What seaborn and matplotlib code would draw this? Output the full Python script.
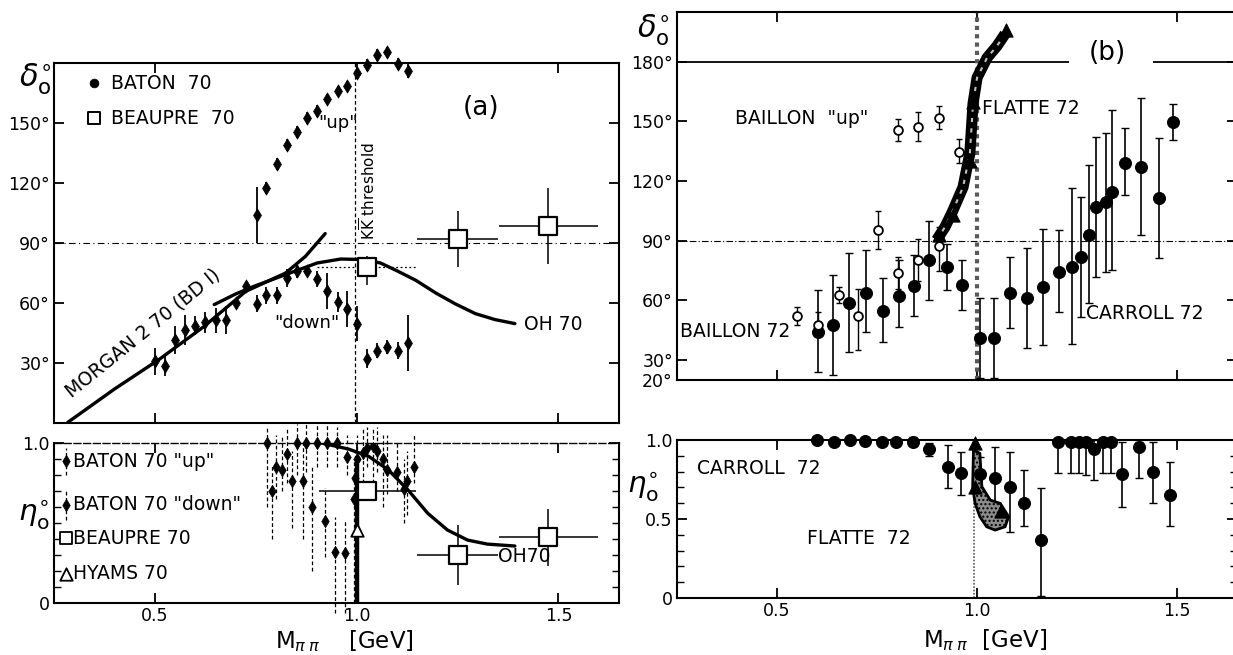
import numpy as np
import pandas as pd
import matplotlib
matplotlib.use("Agg")
import matplotlib.pyplot as plt
from matplotlib.ticker import MultipleLocator
import seaborn as sns

# ================= DATA : panel (a) phase shift delta_0 =================
a_up_m = [0.753, 0.775, 0.802, 0.827, 0.853, 0.877, 0.902, 0.927, 0.953, 0.977,
          1.000, 1.026, 1.051, 1.075, 1.102, 1.127]
a_up_d = [103.8, 117.3, 129.5, 139.2, 145.3, 152.3, 156.2, 162.2, 166.2, 168.7,
          175.0, 179.2, 184.2, 185.3, 179.5, 175.8]
a_up_err = [14, 3, 3, 3, 3, 3, 3, 2.5, 2.5, 2.5, 3, 3, 3, 2.5, 3, 3.5]

a_low_m = [0.500, 0.525, 0.550, 0.574, 0.600, 0.625, 0.651, 0.676, 0.701, 0.727,
           0.752, 0.776, 0.802, 0.827, 0.853, 0.877, 0.902, 0.927, 0.953, 0.977,
           1.000, 1.026, 1.051, 1.075, 1.102, 1.127]
a_low_d = [30.8, 28.3, 41.3, 46.7, 48.7, 50.3, 51.3, 51.3, 60.0, 68.7,
           59.7, 63.8, 63.8, 72.5, 75.8, 75.8, 72.0, 65.8, 60.3, 57.0,
           49.7, 32.2, 36.2, 38.0, 36.2, 40.0]
a_low_err = [6.7, 5.0, 7.0, 7.5, 4.6, 5.4, 6.3, 7.0, 2.5, 2.0,
             4.2, 4.2, 4.2, 4.6, 3.3, 2.0, 4.2, 9.0, 5.0, 9.0,
             8.7, 4.6, 3.8, 3.3, 4.2, 14.0]

a_beau_m = [1.026, 1.250, 1.473]
a_beau_d = [77.8, 92.0, 98.3]
a_beau_dlo = [8.7, 14.0, 19.0]
a_beau_dhi = [5.5, 14.0, 19.0]
a_beau_mlo = [0.124, 0.10, 0.12]
a_beau_mhi = [0.121, 0.10, 0.125]

oh_m = [0.647, 0.700, 0.745, 0.824, 0.902, 0.961, 1.020, 1.059, 1.098, 1.147,
        1.196, 1.245, 1.294, 1.343, 1.392]
oh_d = [59.2, 64.5, 68.3, 74.2, 80.0, 82.0, 81.7, 80.0, 76.3, 71.3,
        65.0, 59.5, 54.7, 51.7, 49.7]

morgan_m = [0.284, 0.400, 0.510, 0.620, 0.725, 0.824, 0.873, 0.922]
morgan_d = [0.3, 17.0, 31.7, 48.0, 65.8, 75.0, 83.3, 94.7]

# ================= DATA : panel (a) inelasticity eta_0 =================
a_etaup_m = [0.777, 0.801, 0.816, 0.827, 0.851, 0.875, 0.902, 0.927, 0.952, 0.976,
             1.002, 1.026, 1.051, 1.075, 1.100, 1.125, 1.142]
a_etaup = [1.00, 0.85, 0.83, 0.93, 1.00, 1.00, 1.00, 1.00, 1.00, 0.91,
           0.90, 0.97, 0.95, 0.83, 0.82, 0.76, 0.85]
a_etaup_lo = [0.60, 0.65, 0.70, 0.75, 0.80, 0.82, 0.85, 0.85, 0.85, 0.80,
              0.80, 0.85, 0.82, 0.68, 0.70, 0.55, 0.75]
a_etaup_hi = [1.10, 1.05, 1.05, 1.10, 1.12, 1.12, 1.12, 1.12, 1.10, 1.05,
              1.05, 1.10, 1.10, 1.05, 1.00, 0.95, 1.05]

a_etadn_m = [0.790, 0.841, 0.868, 0.890, 0.922, 0.946, 0.971, 0.993, 0.997,
             1.015, 1.041, 1.066, 1.118]
a_etadn = [0.70, 0.76, 0.76, 0.60, 0.51, 0.32, 0.31, 0.65, 0.78,
           0.94, 0.98, 0.90, 0.71]
a_etadn_lo = [0.40, 0.47, 0.40, 0.20, 0.29, -0.06, -0.06, 0.00, 0.00,
              0.75, 0.75, 0.60, 0.50]
a_etadn_hi = [0.87, 0.95, 1.00, 0.85, 0.72, 0.54, 0.52, 0.90, 0.95,
              1.10, 1.10, 1.05, 0.90]

a_beau_eta = [0.70, 0.30, 0.41]
a_beau_eta_err = [0.0, 0.19, 0.18]
a_beau_eta_mlo = [0.12, 0.10, 0.12]
a_beau_eta_mhi = [0.12, 0.10, 0.125]

hyams_m = [1.002]
hyams_eta = [0.456]
hyams_band_top = [0.87]

oh_eta_m = [0.912, 0.980, 1.030, 1.078, 1.127, 1.176, 1.225, 1.275, 1.324, 1.392]
oh_eta = [1.00, 0.962, 0.916, 0.833, 0.707, 0.561, 0.456, 0.393, 0.368, 0.356]

# ================= DATA : panel (b) phase shift =================
bail_m = [0.551, 0.602, 0.654, 0.703, 0.752, 0.802, 0.853, 0.904]
bail_d = [52.2, 47.6, 62.7, 52.2, 95.4, 73.6, 80.3, 87.4]
bail_lo = [47.5, 43.0, 58.5, 35.0, 86.0, 66.0, 70.0, 75.0]
bail_hi = [56.8, 54.0, 67.0, 66.0, 105.0, 82.0, 91.0, 97.0]

bailup_m = [0.802, 0.853, 0.904, 0.955]
bailup_d = [145.6, 147.3, 151.5, 134.8]
bailup_lo = [140.0, 140.0, 146.0, 129.0]
bailup_hi = [151.0, 155.0, 158.0, 141.0]

car_m = [0.603, 0.639, 0.680, 0.722, 0.764, 0.804, 0.843, 0.881, 0.924, 0.963,
         1.007, 1.043, 1.083, 1.124, 1.164, 1.206, 1.237, 1.259, 1.279, 1.298,
         1.323, 1.337, 1.370, 1.409, 1.455, 1.490]
car_d = [44.3, 47.6, 58.5, 63.9, 54.8, 62.2, 67.2, 80.3, 77.0, 67.7,
         41.3, 41.3, 63.6, 61.0, 66.6, 74.5, 77.0, 81.7, 92.9, 107.1,
         109.6, 114.7, 129.2, 127.2, 111.3, 149.5]
car_lo = [24.2, 22.5, 34.2, 44.3, 39.3, 46.5, 52.2, 60.2, 65.2, 55.2,
          20.8, 20.8, 46.0, 36.0, 37.6, 54.3, 38.1, 51.8, 58.5, 72.0,
          74.5, 75.3, 113.0, 92.9, 81.2, 140.6]
car_hi = [65.2, 72.8, 84.0, 85.3, 71.1, 80.3, 82.8, 100.0, 88.4, 80.3,
          61.0, 61.0, 82.0, 86.2, 95.7, 95.4, 116.3, 112.1, 128.0, 142.3,
          144.0, 155.7, 146.5, 161.6, 141.5, 159.0]

flatte_m = [0.899, 0.920, 0.937, 0.965, 0.982, 0.990, 1.000, 1.025, 1.050, 1.070]
flatte_d = [90.4, 97.0, 104.0, 117.0, 134.0, 159.0, 172.0, 182.0, 188.0, 194.0]
flatte_tri_m = [0.905, 0.940, 0.983, 0.990, 1.072]
flatte_tri_d = [93.0, 103.0, 130.0, 160.0, 196.0]

# ================= DATA : panel (b) inelasticity =================
car_eta_m = [0.600, 0.642, 0.683, 0.720, 0.762, 0.798, 0.840, 0.879, 0.928, 0.960,
             1.007, 1.044, 1.082, 1.117, 1.161, 1.203, 1.234, 1.254, 1.272, 1.293,
             1.316, 1.335, 1.363, 1.404, 1.441, 1.482]
car_eta = [1.00, 0.99, 1.00, 0.996, 0.985, 0.985, 0.99, 0.941, 0.832, 0.794,
           0.783, 0.762, 0.705, 0.600, 0.368, 0.985, 0.985, 0.985, 0.985, 0.941,
           0.985, 0.985, 0.785, 0.958, 0.796, 0.653]
car_eta_lo = [1.00, 0.99, 1.00, 0.996, 0.985, 0.985, 0.96, 0.90, 0.695, 0.653,
              0.621, 0.579, 0.421, 0.453, 0.01, 0.79, 0.79, 0.79, 0.78, 0.747,
              0.79, 0.79, 0.579, 0.758, 0.60, 0.453]
car_eta_hi = [1.00, 0.99, 1.00, 0.996, 0.985, 0.985, 1.02, 0.98, 0.968, 0.926,
              0.895, 0.958, 0.926, 0.810, 0.695, 1.00, 1.00, 1.00, 1.00, 1.00,
              1.00, 1.00, 0.99, 0.99, 0.99, 0.863]

flatte_eta_tri_m = [0.995, 0.995, 1.060]
flatte_eta_tri = [0.981, 0.700, 0.550]
flatte_band_m = [0.991, 1.007, 1.012, 1.033, 1.058, 1.079, 1.070, 1.045, 1.024,
                 1.007, 0.995, 0.989]
flatte_band_eta = [0.937, 0.916, 0.705, 0.620, 0.599, 0.515, 0.451, 0.430, 0.451,
                   0.515, 0.599, 0.705]

# ================= STYLE =================
sns.set_theme(style="ticks")
plt.rcParams["font.family"] = ["DejaVu Sans"]
plt.rcParams["mathtext.fontset"] = "dejavusans"
for k in ("text.color", "axes.labelcolor", "xtick.color", "ytick.color",
          "axes.edgecolor"):
    plt.rcParams[k] = "black"

INK = "black"
fig = plt.figure(figsize=(12.33, 6.55), dpi=100)
fig.patch.set_facecolor("white")

ax_at = fig.add_axes([0.0438, 0.3542, 0.4582, 0.5496])
ax_ab = fig.add_axes([0.0438, 0.0794, 0.4582, 0.2443])
ax_bt = fig.add_axes([0.5491, 0.4198, 0.4542, 0.5618])
ax_bb = fig.add_axes([0.5491, 0.0870, 0.4542, 0.2412])


def style(ax):
    ax.set_facecolor("white")
    ax.grid(False)
    for s in ax.spines.values():
        s.set_linewidth(1.5)
        s.set_color(INK)
    ax.tick_params(which="major", direction="in", length=7, width=1.3,
                   colors=INK, labelcolor=INK, top=True, right=True,
                   labelsize=12.5, pad=3)
    ax.tick_params(which="minor", direction="in", length=5, width=1.0,
                   colors=INK, left=True, right=True, top=False, bottom=False)
    ax.set_xlim(0.25, 1.65)
    ax.set_xticks([0.5, 1.0, 1.5])


for a in (ax_at, ax_ab, ax_bt, ax_bb):
    style(a)

FS = 13.5

# ---------------- panel (a) top ----------------
ax = ax_at
ax.set_ylim(0, 180)
ax.set_yticks([30, 60, 90, 120, 150])
ax.set_yticklabels(["30°", "60°", "90°", "120°", "150°"])
ax.set_xticklabels([])
ax.axhline(90, color=INK, lw=0.8, ls=(0, (6, 3, 1, 3)))
ax.axvline(0.995, color=INK, lw=0.9, ls=(0, (3, 2)))

sns.lineplot(x=morgan_m, y=morgan_d, ax=ax, color=INK, lw=2.4, sort=False,
             estimator=None, clip_on=False)
sns.lineplot(x=oh_m, y=oh_d, ax=ax, color=INK, lw=2.4, sort=False, estimator=None)

ax.errorbar(a_up_m, a_up_d, yerr=a_up_err, fmt="none", ecolor=INK, elinewidth=1.3,
            clip_on=False)
ax.errorbar(a_low_m, a_low_d, yerr=a_low_err, fmt="none", ecolor=INK, elinewidth=1.3)
sns.scatterplot(x=a_up_m, y=a_up_d, ax=ax, marker="d", s=45, color=INK,
                edgecolor=INK, clip_on=False, zorder=5)
sns.scatterplot(x=a_low_m, y=a_low_d, ax=ax, marker="d", s=45, color=INK,
                edgecolor=INK, zorder=5)

# BEAUPRE: vertical error bars, solid horizontal bars (dotted for the first point)
ax.errorbar(a_beau_m, a_beau_d, yerr=[a_beau_dlo, a_beau_dhi],
            fmt="none", ecolor=INK, elinewidth=1.1)
ax.hlines(a_beau_d[1:], np.subtract(a_beau_m, a_beau_mlo)[1:],
          np.add(a_beau_m, a_beau_mhi)[1:], colors=INK, lw=1.1)
ax.hlines(a_beau_d[:1], np.subtract(a_beau_m, a_beau_mlo)[:1],
          np.add(a_beau_m, a_beau_mhi)[:1], colors=INK, lw=0.9,
          linestyles=(0, (1.5, 2)))
sns.scatterplot(x=a_beau_m, y=a_beau_d, ax=ax, marker="s", s=160,
                facecolor="white", edgecolor=INK, linewidth=1.6, zorder=6)

# legend-like annotations
sns.scatterplot(x=[0.35], y=[170], ax=ax, marker="o", s=40, color=INK, edgecolor=INK)
sns.scatterplot(x=[0.35], y=[152.5], ax=ax, marker="s", s=70, facecolor="white",
                edgecolor=INK, linewidth=1.4)
ax.text(0.39, 170, "BATON  70", fontsize=FS, va="center", ha="left")
ax.text(0.39, 152.5, "BEAUPRE  70", fontsize=FS, va="center", ha="left")
ax.text(1.309, 157.5, "(a)", fontsize=19, va="center", ha="center")
ax.text(0.955, 150, '"up"', fontsize=FS - 0.5, va="center", ha="center")
ax.text(0.877, 50, '"down"', fontsize=FS - 0.5, va="center", ha="center")
ax.text(1.415, 49.2, "OH 70", fontsize=FS, va="center", ha="left")
ax.text(0.47, 45.0, "MORGAN 2 70 (BD I)", fontsize=FS, va="center", ha="center",
        rotation=39, rotation_mode="anchor")
ax.text(1.03, 116, r"K$\overline{\rm K}$ threshold", fontsize=11, rotation=90,
        va="center", ha="center")
ax.text(0.205, 172, r"$\delta^{\circ}_{\rm o}$", fontsize=22, va="center",
        ha="center", clip_on=False)

# ---------------- panel (a) bottom ----------------
ax = ax_ab
ax.set_ylim(0, 1.0)
ax.set_yticks([0, 1.0])
ax.set_yticklabels(["0", "1.0"])
ax.yaxis.set_minor_locator(MultipleLocator(0.1))
ax.set_xticklabels(["0.5", "1.0", "1.5"])
ax.spines["top"].set_linestyle((0, (5, 2)))
ax.spines["top"].set_linewidth(1.0)

ax.vlines(a_etaup_m, a_etaup_lo, a_etaup_hi, colors=INK, linestyles=(0, (3, 2)),
          lw=0.9, clip_on=False)
ax.vlines(a_etadn_m, a_etadn_lo, a_etadn_hi, colors=INK, linestyles=(0, (3, 2)),
          lw=0.9, clip_on=False)
ax.vlines(hyams_m, 0, hyams_band_top, colors=INK, lw=3.2)
sns.lineplot(x=oh_eta_m, y=oh_eta, ax=ax, color=INK, lw=2.4, sort=False,
             estimator=None)
sns.scatterplot(x=a_etaup_m, y=a_etaup, ax=ax, marker="d", s=40, color=INK,
                edgecolor=INK, zorder=5, clip_on=False)
sns.scatterplot(x=a_etadn_m, y=a_etadn, ax=ax, marker="d", s=40, color=INK,
                edgecolor=INK, zorder=5)
ax.errorbar(a_beau_m, a_beau_eta, yerr=a_beau_eta_err,
            xerr=[a_beau_eta_mlo, a_beau_eta_mhi], fmt="none", ecolor=INK,
            elinewidth=1.1)
sns.scatterplot(x=a_beau_m, y=a_beau_eta, ax=ax, marker="s", s=160,
                facecolor="white", edgecolor=INK, linewidth=1.6, zorder=6)
sns.scatterplot(x=hyams_m, y=hyams_eta, ax=ax, marker="^", s=80, facecolor="white",
                edgecolor=INK, linewidth=1.3, zorder=6)

# legend markers
ax.vlines([0.279, 0.279], [0.80, 0.52], [0.97, 0.70], colors=INK,
          linestyles=(0, (3, 2)), lw=0.9)
sns.scatterplot(x=[0.279, 0.279], y=[0.885, 0.613], ax=ax, marker="d", s=40,
                color=INK, edgecolor=INK)
sns.scatterplot(x=[0.279], y=[0.404], ax=ax, marker="s", s=70, facecolor="white",
                edgecolor=INK, linewidth=1.3)
sns.scatterplot(x=[0.279], y=[0.184], ax=ax, marker="^", s=80, facecolor="white",
                edgecolor=INK, linewidth=1.3)
ax.text(0.296, 0.885, 'BATON 70 "up"', fontsize=FS, va="center", ha="left")
ax.text(0.296, 0.613, 'BATON 70 "down"', fontsize=FS, va="center", ha="left")
ax.text(0.296, 0.404, "BEAUPRE 70", fontsize=FS, va="center", ha="left")
ax.text(0.296, 0.184, "HYAMS 70", fontsize=FS, va="center", ha="left")
ax.text(1.35, 0.29, "OH70", fontsize=FS, va="center", ha="left")
ax.text(0.2, 0.55, r"$\eta^{\circ}_{\rm o}$", fontsize=21, va="center",
        ha="center", clip_on=False)
ax.text(0.97, -0.235, r"M$_{\pi\;\pi}$    [GeV]", fontsize=16.5, va="center",
        ha="center", clip_on=False)

# ---------------- panel (b) top ----------------
ax = ax_bt
ax.set_ylim(20, 205)
ax.set_yticks([20, 30, 60, 90, 120, 150, 180])
ax.set_yticklabels(["20°", "30°", "60°", "90°", "120°", "150°", "180°"])
ax.set_xticklabels([])
ax.hlines(180, 0.25, 1.23, color=INK, lw=1.3)
ax.hlines(180, 1.44, 1.65, color=INK, lw=1.3)
ax.axhline(90, color=INK, lw=0.8, ls=(0, (6, 2, 1, 2)))
ax.axvline(1.0, color="0.35", lw=3.0, ls=(0, (1, 1)))

ax.errorbar(car_m, car_d,
            yerr=[np.subtract(car_d, car_lo), np.subtract(car_hi, car_d)],
            fmt="none", ecolor=INK, elinewidth=1.2, capsize=3, capthick=1.0)
sns.scatterplot(x=car_m, y=car_d, ax=ax, marker="o", s=75, color=INK,
                edgecolor=INK, zorder=5)
ax.errorbar(bail_m, bail_d,
            yerr=[np.subtract(bail_d, bail_lo), np.subtract(bail_hi, bail_d)],
            fmt="none", ecolor=INK, elinewidth=1.0, capsize=2.5, capthick=1.0)
ax.errorbar(bailup_m, bailup_d,
            yerr=[np.subtract(bailup_d, bailup_lo), np.subtract(bailup_hi, bailup_d)],
            fmt="none", ecolor=INK, elinewidth=1.0, capsize=2.5, capthick=1.0)
sns.scatterplot(x=bail_m, y=bail_d, ax=ax, marker="o", s=40, facecolor="white",
                edgecolor=INK, linewidth=1.3, zorder=6)
sns.scatterplot(x=bailup_m, y=bailup_d, ax=ax, marker="o", s=40, facecolor="white",
                edgecolor=INK, linewidth=1.3, zorder=6)

sns.lineplot(x=flatte_m, y=flatte_d, ax=ax, color=INK, lw=8, sort=False,
             estimator=None, zorder=4, solid_capstyle="butt")
sns.lineplot(x=flatte_m, y=flatte_d, ax=ax, color="0.75", lw=1.5, sort=False,
             estimator=None, zorder=4, ls=(0, (2, 3)))
sns.scatterplot(x=flatte_tri_m, y=flatte_tri_d, ax=ax, marker="^", s=90, color=INK,
                edgecolor=INK, zorder=5, clip_on=False)

ax.text(0.394, 151.5, 'BAILLON  "up"', fontsize=FS, va="center", ha="left")
ax.text(1.012, 156.5, "FLATTE 72", fontsize=FS, va="center", ha="left")
ax.text(0.257, 44.3, "BAILLON 72", fontsize=FS, va="center", ha="left")
ax.text(1.272, 53.5, "CARROLL 72", fontsize=FS, va="center", ha="left")
ax.text(1.325, 184.2, "(b)", fontsize=19, va="center", ha="center",
        bbox=dict(facecolor="white", edgecolor="none", pad=1))
ax.text(0.19, 196, r"$\delta^{\circ}_{\rm o}$", fontsize=22, va="center",
        ha="center", clip_on=False)

# ---------------- panel (b) bottom ----------------
ax = ax_bb
ax.set_ylim(0, 1.0)
ax.set_yticks([0, 0.5, 1.0])
ax.set_yticklabels(["0", "0.5", "1.0"])
ax.yaxis.set_minor_locator(MultipleLocator(0.1))
ax.set_xticklabels(["0.5", "1.0", "1.5"])
ax.axvline(0.993, color="0.35", lw=1.2, ls=(0, (1, 1)))

ax.errorbar(car_eta_m, car_eta,
            yerr=[np.subtract(car_eta, car_eta_lo), np.subtract(car_eta_hi, car_eta)],
            fmt="none", ecolor=INK, elinewidth=1.2, capsize=3, capthick=1.0,
            clip_on=False)
sns.scatterplot(x=car_eta_m, y=car_eta, ax=ax, marker="o", s=75, color=INK,
                edgecolor=INK, zorder=5, clip_on=False)
ax.fill(flatte_band_m, flatte_band_eta, facecolor="0.55", edgecolor=INK, lw=2,
        hatch="....", zorder=4)
sns.scatterplot(x=flatte_eta_tri_m, y=flatte_eta_tri, ax=ax, marker="^", s=90,
                color=INK, edgecolor=INK, zorder=5, clip_on=False)

ax.text(0.30, 0.821, "CARROLL  72", fontsize=FS, va="center", ha="left")
ax.text(0.575, 0.379, "FLATTE  72", fontsize=FS, va="center", ha="left")
ax.text(0.165, 0.705, r"$\eta^{\circ}_{\rm o}$", fontsize=21, va="center",
        ha="center", clip_on=False)
ax.text(1.02, -0.265, r"M$_{\pi\;\pi}$  [GeV]", fontsize=16.5, va="center",
        ha="center", clip_on=False)

fig.savefig("out.png", dpi=100, facecolor="white")
